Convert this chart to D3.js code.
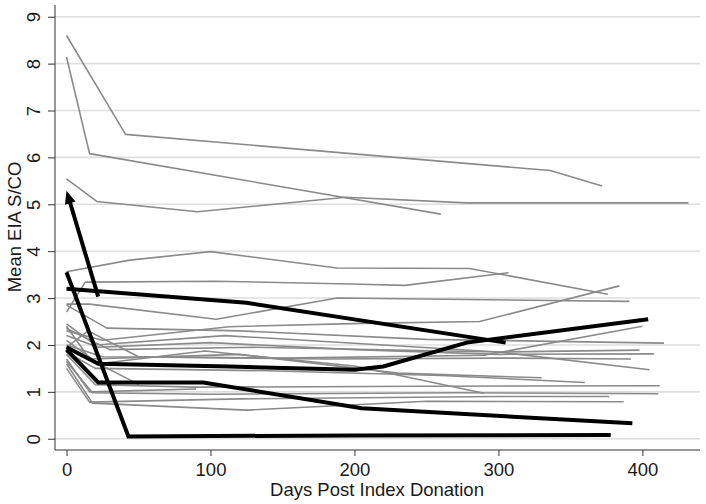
<!DOCTYPE html>
<html><head><meta charset="utf-8">
<script src="https://cdn.jsdelivr.net/npm/d3@7"></script>
<style>body{margin:0;background:#fff}svg{display:block}text{font-family:"Liberation Sans",Arial,Helvetica,sans-serif;fill:#1a1a1a}</style>
</head><body><svg id="c" width="706" height="504"></svg>
<script>
// Tick labels
const xTicks = [0, 100, 200, 300, 400];
const yTicks = [0, 1, 2, 3, 4, 5, 6, 7, 8, 9];
const xTitle = "Days Post Index Donation";
const yTitle = "Mean EIA S/CO";

// Gray donor trajectories: [day, mean S/CO]
const grayDays = [
  [0, 41, 336, 372],
  [0, 16, 260],
  [0, 21, 91, 194, 278, 432],
  [0, 44, 100, 188, 280, 376],
  [0, 13, 104, 197, 235, 307],
  [0, 16, 104, 188, 391],
  [0, 25, 113, 206, 287, 384],
  [0, 28, 120, 250, 415],
  [0, 25, 150, 290, 400],
  [0, 20, 110, 220, 300, 398],
  [0, 22, 100, 200, 300, 408],
  [0, 15, 50, 180, 300, 392],
  [0, 30, 130, 300, 405],
  [0, 20, 90, 250, 412],
  [0, 18, 100, 270, 411],
  [0, 16, 120, 300, 377],
  [0, 18, 125, 250, 387],
  [0, 16, 90],
  [0, 50],
  [0, 22, 96, 200, 290],
  [0, 16, 120, 230, 330],
  [0, 20, 140, 260, 360]
];
const grayVals = [
  [8.6, 6.49, 5.72, 5.39],
  [8.14, 6.08, 4.79],
  [5.54, 5.06, 4.84, 5.15, 5.03, 5.03],
  [3.56, 3.81, 3.99, 3.64, 3.63, 3.08],
  [2.7, 3.34, 3.36, 3.30, 3.27, 3.54],
  [2.87, 2.87, 2.55, 3.0, 2.93],
  [2.3, 2.1, 2.39, 2.46, 2.5, 3.26],
  [2.85, 2.36, 2.3, 2.12, 2.04],
  [2.0, 1.75, 1.72, 1.78, 2.40],
  [2.45, 2.0, 2.2, 2.0, 1.85, 1.89],
  [2.2, 1.95, 2.05, 1.9, 1.8, 1.81],
  [1.95, 2.3, 1.75, 1.7, 1.72, 1.70],
  [2.35, 1.9, 1.95, 1.85, 1.47],
  [1.8, 1.15, 1.1, 1.12, 1.13],
  [1.65, 0.98, 0.95, 0.98, 0.96],
  [1.5, 0.78, 0.85, 0.9, 0.90],
  [1.6, 0.76, 0.61, 0.8, 0.79],
  [1.7, 1.0, 1.06],
  [1.95, 1.16],
  [2.1, 1.6, 1.87, 1.55, 0.97],
  [2.4, 1.7, 1.8, 1.4, 1.3],
  [1.85, 1.5, 1.45, 1.35, 1.2]
];

// Black highlighted trajectories
const blackDays = [
  [0, 43, 200, 378],
  [0, 125, 305],
  [0, 22, 113, 200, 220, 278, 404],
  [0, 22, 95, 205, 393]
];
const blackVals = [
  [3.55, 0.05, 0.07, 0.08],
  [3.2, 2.9, 2.05],
  [1.95, 1.6, 1.54, 1.47, 1.54, 2.05, 2.55],
  [1.9, 1.2, 1.2, 0.65, 0.33]
];
// Arrowed black trajectory (arrow tip at day 0)
const arrowDays = [0, 22];
const arrowVals = [5.29, 3.03];

const svg = d3.select("#c");
const x = d3.scaleLinear().domain([-8, 440]).range([55, 700]);
const y = d3.scaleLinear().domain([-0.24, 9.25]).range([450, 5]);
const FONT = "Liberation Sans, Arial, sans-serif";

// gridlines
svg.append("g").selectAll("line").data(yTicks).join("line")
  .attr("x1", 55).attr("x2", 700)
  .attr("y1", d => y(d)).attr("y2", d => y(d))
  .attr("stroke", "#dedede").attr("stroke-width", 1.6);

const line = d3.line().x(d => x(d[0])).y(d => y(d[1]));
const gray = grayDays.map((ds, i) => ds.map((d, j) => [d, grayVals[i][j]]));
const black = blackDays.map((ds, i) => ds.map((d, j) => [d, blackVals[i][j]]));

svg.append("g").selectAll("path").data(gray).join("path")
  .attr("d", line).attr("fill", "none").attr("stroke", "#8a8a8a")
  .attr("stroke-width", 1.6).attr("stroke-linejoin", "round");

svg.append("g").selectAll("path").data(black).join("path")
  .attr("d", line).attr("fill", "none").attr("stroke", "#000")
  .attr("stroke-width", 4).attr("stroke-linejoin", "miter");

// arrowed trajectory: line + arrowhead, positioned through the scales
{
  const tip = [x(arrowDays[0]), y(arrowVals[0])];
  const end = [x(arrowDays[1]), y(arrowVals[1])];
  const dx = tip[0] - end[0], dy = tip[1] - end[1];
  const len = Math.hypot(dx, dy), ux = dx / len, uy = dy / len;
  const L = 13, W = 5.5;
  const base = [tip[0] - ux * L, tip[1] - uy * L];
  svg.append("line")
    .attr("x1", base[0] + ux * 2).attr("y1", base[1] + uy * 2)
    .attr("x2", end[0]).attr("y2", end[1])
    .attr("stroke", "#000").attr("stroke-width", 4);
  svg.append("path")
    .attr("d", `M${tip[0]},${tip[1]}L${base[0] - uy * W},${base[1] + ux * W}L${base[0] + uy * W},${base[1] - ux * W}Z`)
    .attr("fill", "#000");
}

// axes
const xa = svg.append("g").attr("transform", "translate(0,450)")
  .call(d3.axisBottom(x).tickValues(xTicks).tickSize(6).tickPadding(7).tickSizeOuter(0));
xa.select(".domain").attr("stroke", "#333").attr("d", "M55,0H700");
xa.selectAll(".tick line").attr("stroke", "#333");
xa.selectAll("text").attr("font-size", 18.5).attr("fill", "#1a1a1a").attr("font-family", FONT);

const ya = svg.append("g").attr("transform", "translate(55,0)")
  .call(d3.axisLeft(y).tickValues(yTicks).tickSize(7).tickSizeOuter(0));
ya.select(".domain").attr("stroke", "#333").attr("d", "M0,5V450");
ya.selectAll(".tick line").attr("stroke", "#333");
ya.selectAll(".tick text")
  .attr("font-size", 18.5).attr("fill", "#1a1a1a").attr("font-family", FONT)
  .attr("x", null).attr("dy", null)
  .attr("text-anchor", "middle")
  .attr("transform", "translate(-22,0) rotate(-90)")
  .attr("dominant-baseline", "central");

svg.append("text").attr("x", 377).attr("y", 496).attr("text-anchor", "middle")
  .attr("font-size", 18.5).text(xTitle);
svg.append("text").attr("transform", "translate(21,227) rotate(-90)")
  .attr("text-anchor", "middle").attr("font-size", 18.5).text(yTitle);
</script></body></html>
